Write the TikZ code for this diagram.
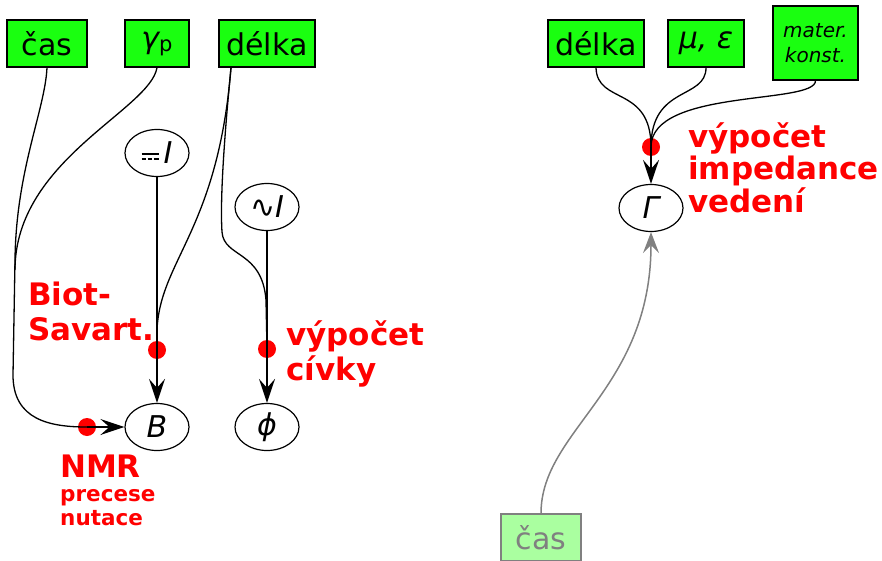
\documentclass[tikz,border=0pt]{standalone}
\usepackage{fontspec}
\setmainfont{DejaVu Sans}
\usetikzlibrary{arrows.meta,calc,shapes.geometric}
\definecolor{boxgreen}{RGB}{26,255,16}
\definecolor{palegreen}{RGB}{170,255,160}
\definecolor{fadegray}{RGB}{128,128,128}
% direct-current mark: solid bar over a dashed bar
\newcommand\dcmark{\raisebox{9pt}{\rule{17pt}{1.7pt}}\hspace{-17pt}\raisebox{4pt}{\rule{4.8pt}{1.5pt}\hspace{1.3pt}\rule{4.8pt}{1.5pt}\hspace{1.3pt}\rule{4.8pt}{1.5pt}}}
\tikzset{
  inbox/.style={draw=black, line width=1.2pt, fill=boxgreen, minimum height=47pt,
    inner sep=0pt, font=\fontsize{30}{33}\selectfont},
  fadebox/.style={inbox, draw=fadegray, fill=palegreen, text=fadegray},
  qty/.style={ellipse, draw=black, line width=1.2pt, fill=white, minimum width=64pt,
    minimum height=47pt, inner sep=0pt, font=\fontsize{30}{33}\selectfont\itshape},
  joint/.style={circle, fill=red, minimum size=18pt, inner sep=0pt},
  link/.style={line width=1.3pt},
  feed/.style={line width=2.2pt, -{Stealth[length=24pt,width=16pt,inset=9pt]}},
  fadefeed/.style={line width=1.5pt, draw=fadegray, -{Stealth[length=21pt,width=16pt,inset=8pt]}},
  lawlabel/.style={text=red, inner sep=0pt, align=left, anchor=base west,
    font=\fontsize{31}{35}\selectfont\bfseries},
  smalllabel/.style={lawlabel, font=\fontsize{21.5}{23.5}\selectfont\bfseries}
}
\begin{document}
\begin{tikzpicture}[x=1pt,y=-1pt]
\useasboundingbox (0,0) rectangle (882,561);

% inputs of the coil part
\node[inbox, minimum width=80pt] (cas) at (47,43.5) {čas};
\node[inbox, minimum width=64pt] (gamma) at (157,43.5) {{\itshape γ}\raisebox{-3pt}{\fontsize{21}{21}\selectfont p}};
\node[inbox, minimum width=96pt] (delka) at (267,43.5) {délka};

% currents
\node[qty] (dcI) at (157,153) {\dcmark\,I};
\node[qty] (acI) at (267,207) {{\upshape ∿}I};

% results
\node[qty] (B) at (157,427) {B};
\node[qty] (phi) at (267,427) {ϕ};

% junctions
\node[joint] (jbs) at (157,350) {};
\node[joint] (jcoil) at (267,349) {};
\node[joint] (jnmr) at (87,427) {};

% lines into the junctions
\draw[link] (cas.south) .. controls (45,110) and (16,170) .. (15,260)
  -- (13,375) .. controls (13,420) and (50,427) .. (jnmr.center);
\draw[link] (gamma.south) .. controls (150,110) and (15,160) .. (15,270);
\draw[link] ([xshift=-36pt]delka.south) .. controls (218,230) and (160,260) .. (157,330)
  -- (jbs.center);
\draw[link] ([xshift=-36pt]delka.south) .. controls (224,140) and (220,200) .. (222,232)
  .. controls (224,258) and (262,250) .. (266,300) -- (jcoil.center);
\draw[link] (dcI.south) -- (jbs.center);
\draw[link] (acI.south) -- (jcoil.center);

% arrows out of the junctions
\draw[feed] (jbs.center) -- (B.north);
\draw[feed] (jcoil.center) -- (phi.north);
\draw[feed] (jnmr.center) -- (B.west);

% labels
\node[lawlabel] (lbs) at (28,340) {Biot-\\Savart.};
\node[lawlabel] (lcoil) at (286,380) {výpočet\\cívky};
\node[lawlabel] (lnmr) at (60,477) {NMR};
\node[smalllabel] (lnmr2) at (60,525) {precese\\nutace};

% impedance part
\node[inbox, minimum width=96pt] (delka2) at (596,43.5) {délka};
\node[inbox, minimum width=76pt] (mueps) at (706,43.5) {{\itshape μ, ε}};
\node[inbox, minimum width=85pt, minimum height=74pt, align=center,
  font=\fontsize{20}{25}\selectfont\itshape] (mater) at (815.5,43) {mater.\\konst.};
\node[qty] (Gamma) at (651,208) {Γ};
\node[joint] (jimp) at (651,147) {};
\node[fadebox, minimum width=80pt] (cas2) at (541,537.5) {čas};

\draw[link] (delka2.south) .. controls (597,105) and (651,85) .. (jimp.center);
\draw[link] (mueps.south) .. controls (706,100) and (651,85) .. (jimp.center);
\draw[link] (mater.south) .. controls (816,105) and (651,88) .. (jimp.center);
\draw[feed] (jimp.center) -- (Gamma.north);
\draw[fadefeed] (cas2.north) .. controls (541,430) and (651,390) .. (Gamma.south);

\node[lawlabel, font=\fontsize{31}{33}\selectfont\bfseries] (limp) at (688,213) {výpočet\\impedance\\vedení};
\end{tikzpicture}
\end{document}
